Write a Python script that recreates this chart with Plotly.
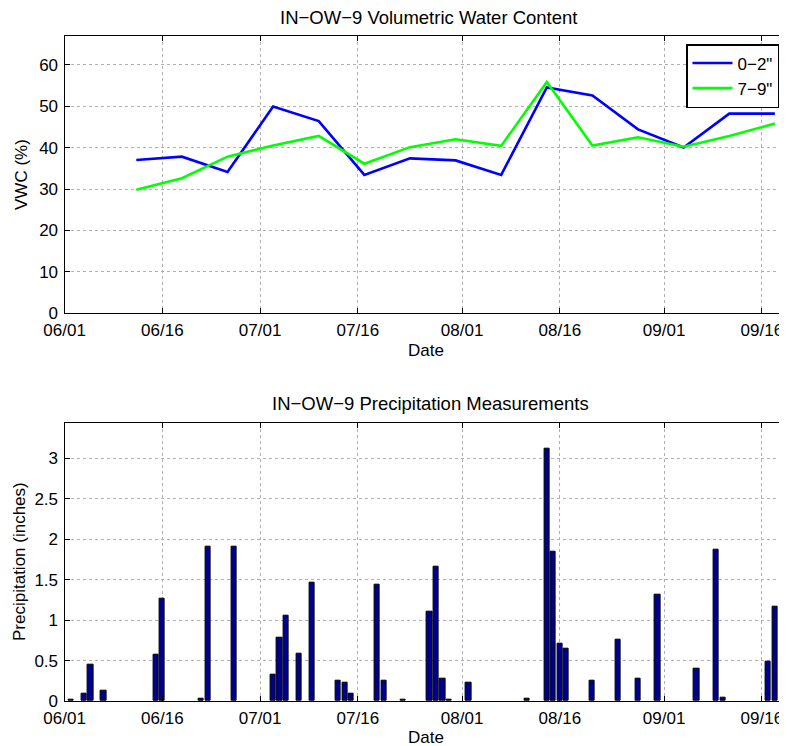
import plotly.graph_objects as go

# ---- data ----
vwc_dates = ["2012-06-12", "2012-06-19", "2012-06-26", "2012-07-03", "2012-07-10",
             "2012-07-17", "2012-07-24", "2012-07-31", "2012-08-07", "2012-08-14",
             "2012-08-21", "2012-08-28", "2012-09-04", "2012-09-11", "2012-09-18"]
vwc_0_2 = [37.0, 37.8, 34.1, 49.9, 46.4, 33.4, 37.4, 36.9, 33.4, 54.5,
           52.6, 44.4, 40.0, 48.2, 48.2]
vwc_7_9 = [29.8, 32.6, 37.8, 40.5, 42.8, 36.1, 40.1, 42.0, 40.4, 55.8,
           40.5, 42.5, 40.2, 42.8, 45.8]

precip_dates = ["2012-06-02", "2012-06-04", "2012-06-05", "2012-06-07", "2012-06-15",
                "2012-06-16", "2012-06-22", "2012-06-23", "2012-06-27", "2012-07-03",
                "2012-07-04", "2012-07-05", "2012-07-07", "2012-07-09", "2012-07-13",
                "2012-07-14", "2012-07-15", "2012-07-19", "2012-07-20", "2012-07-23",
                "2012-07-27", "2012-07-28", "2012-07-29", "2012-07-30", "2012-08-02",
                "2012-08-11", "2012-08-14", "2012-08-15", "2012-08-16", "2012-08-17",
                "2012-08-21", "2012-08-25", "2012-08-28", "2012-08-31", "2012-09-06",
                "2012-09-09", "2012-09-10", "2012-09-17", "2012-09-18"]
precip_in = [0.02, 0.095, 0.45, 0.13, 0.575,
             1.27, 0.03, 1.91, 1.91, 0.32,
             0.78, 1.05, 0.59, 1.46, 0.245,
             0.225, 0.085, 1.44, 0.245, 0.02,
             1.10, 1.66, 0.28, 0.02, 0.23,
             0.03, 3.12, 1.85, 0.71, 0.65,
             0.245, 0.76, 0.27, 1.315, 0.40,
             1.87, 0.045, 0.485, 1.16]

tick_dates = ["2012-06-01", "2012-06-16", "2012-07-01", "2012-07-16",
              "2012-08-01", "2012-08-16", "2012-09-01", "2012-09-16"]
tick_labels = ["06/01", "06/16", "07/01", "07/16", "08/01", "08/16", "09/01", "09/16"]
x_range = ["2012-06-01", "2012-09-19 09:36"]

FONT = "Liberation Sans, Arial, sans-serif"
OFF = 8  # page body margin
W, H = 787 - OFF, 746 - OFF

fig = go.Figure()
fig.add_trace(go.Scatter(x=vwc_dates, y=vwc_0_2, mode="lines", name="0\u22122\"",
                         line=dict(color="#0000FF", width=2.6), xaxis="x", yaxis="y"))
fig.add_trace(go.Scatter(x=vwc_dates, y=vwc_7_9, mode="lines", name="7\u22129\"",
                         line=dict(color="#00FF00", width=2.6), xaxis="x", yaxis="y"))
fig.add_trace(go.Bar(x=precip_dates, y=precip_in, width=0.8 * 86400000,
                     marker=dict(color="#00008F", line=dict(color="black", width=1)),
                     showlegend=False, xaxis="x2", yaxis="y2"))


def px_x(p):
    return (p - OFF) / W


def px_y(p):
    return 1 - (p - OFF) / H


axis_common = dict(showline=True, linecolor="black", linewidth=1.3, mirror="ticks",
                   ticks="inside", ticklen=5, tickcolor="black", tickwidth=1,
                   showgrid=True, gridcolor="#b0b0b0", griddash="dot", gridwidth=1,
                   zeroline=False, automargin=False,
                   tickfont=dict(family=FONT, size=17, color="black"))

xdom = [px_x(64.6), px_x(784)]
fig.update_layout(
    width=W, height=H,
    margin=dict(l=0, r=0, t=0, b=0),
    paper_bgcolor="white", plot_bgcolor="white",
    font=dict(family=FONT, size=17, color="black"),
    xaxis=dict(domain=xdom, anchor="y", type="date", range=x_range,
               tickvals=tick_dates, ticktext=tick_labels, ticklabelstandoff=1,
               **axis_common),
    yaxis=dict(domain=[px_y(313.3), px_y(35.7)], anchor="x", range=[0, 67],
               tickvals=[0, 10, 20, 30, 40, 50, 60], ticklabelstandoff=2, **axis_common),
    xaxis2=dict(domain=xdom, anchor="y2", type="date", range=x_range,
                tickvals=tick_dates, ticktext=tick_labels, ticklabelstandoff=1,
                **axis_common),
    yaxis2=dict(domain=[px_y(701), px_y(422.7)], anchor="x2", range=[0, 3.44],
                tickvals=[0, 0.5, 1, 1.5, 2, 2.5, 3],
                ticktext=["0", "0.5", "1", "1.5", "2", "2.5", "3"],
                ticklabelstandoff=2, **axis_common),
    legend=dict(x=px_x(779), y=px_y(44), xanchor="right", yanchor="top",
                bgcolor="white", bordercolor="black", borderwidth=1.5,
                font=dict(family=FONT, size=17, color="black"),
                tracegroupgap=0, itemwidth=40),
    showlegend=True,
    bargap=0,
)

ann = [
    dict(text="IN\u2212OW\u22129 Volumetric Water Content", x=px_x(428), y=px_y(17.5), s=18.5),
    dict(text="Date", x=px_x(426), y=px_y(351), s=17),
    dict(text="IN\u2212OW\u22129 Precipitation Measurements", x=px_x(430), y=px_y(403), s=18.5),
    dict(text="Date", x=px_x(426), y=px_y(737), s=17),
]
for a in ann:
    fig.add_annotation(text=a["text"], x=a["x"], y=a["y"], xref="paper", yref="paper",
                       showarrow=False, xanchor="center", yanchor="middle", borderpad=0,
                       font=dict(family=FONT, size=a["s"], color="black"))
fig.add_annotation(text="VWC (%)", x=px_x(22), y=px_y(175), xref="paper", yref="paper",
                   showarrow=False, textangle=-90, xanchor="center", yanchor="middle",
                   font=dict(family=FONT, size=17, color="black"))
fig.add_annotation(text="Precipitation (inches)", x=px_x(19), y=px_y(562), xref="paper",
                   yref="paper", showarrow=False, textangle=-90, xanchor="center",
                   yanchor="middle", font=dict(family=FONT, size=17, color="black"))

fig.write_html("out.html")
